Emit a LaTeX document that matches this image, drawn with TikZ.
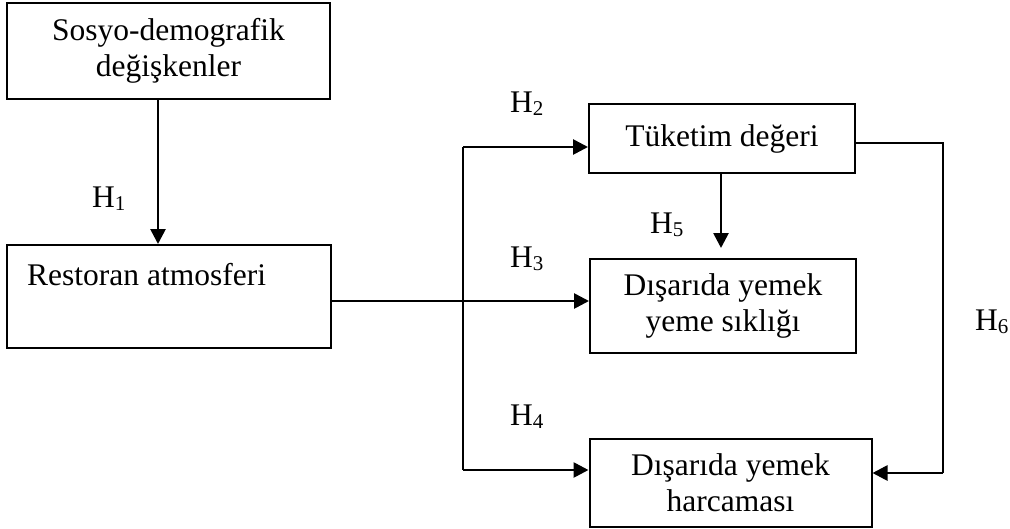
\documentclass[tikz,border=0pt]{standalone}
\usepackage{fontspec}
\setmainfont{Liberation Serif}
\usetikzlibrary{arrows.meta}
\newcommand{\hyp}[1]{H\raisebox{-0.12em}{\fontsize{21}{21}\selectfont #1}}
\begin{document}
\begin{tikzpicture}[x=1pt,y=-1pt,
  every node/.style={font=\fontsize{31.5}{36}\selectfont, inner sep=0pt},
  box/.style={draw, line width=2pt, align=center},
  conn/.style={line width=2.7pt},
  arr/.style={conn, -{Triangle[length=15pt,width=15pt]}},
  hlab/.style={anchor=base west}]
\useasboundingbox (0,0) rectangle (1010,528);
% boxes
\node[box, minimum width=323pt, minimum height=96pt] (s) at (168.5,51) {Sosyo-demografik\\değişkenler};
\node[box, minimum width=324pt, minimum height=103pt] (r) at (169,296.5) {};
\node[anchor=base west] (rt) at (27,285) {Restoran atmosferi};
\node[box, minimum width=266pt, minimum height=69pt] (t) at (722,138.5) {Tüketim değeri};
\node[box, minimum width=266pt, minimum height=94pt] (f) at (723,306) {Dışarıda yemek\\yeme sıklığı};
\node[box, minimum width=282pt, minimum height=88pt] (h) at (730.5,483) {Dışarıda yemek\\harcaması};
% junction coordinates
\coordinate (j) at (463,301);
\coordinate (jt) at (463,147);
\coordinate (jb) at (463,470);
\coordinate (rr) at (943,143);
\coordinate (rb) at (943,473);
\coordinate (h5end) at (721,248);
% connectors
\draw[arr] (s.south -| 158,0) -- (r.north -| 158,0);
\draw[conn] (r.east |- j) -- (j);
\draw[conn] (jt) -- (jb);
\draw[arr] (jt) -- (t.west |- jt);
\draw[arr] (j) -- (f.west |- j);
\draw[arr] (jb) -- (h.west |- jb);
\draw[arr] (t.south -| h5end) -- (h5end);
\draw[conn] (t.east |- rr) -- (rr) -- (rb);
\draw[arr] (rb) -- (h.east |- rb);
% labels
\node[hlab] (h1) at (92,207) {\hyp{1}};
\node[hlab] (h2) at (510,112) {\hyp{2}};
\node[hlab] (h3) at (510,267) {\hyp{3}};
\node[hlab] (h4) at (510,425) {\hyp{4}};
\node[hlab] (h5) at (650,233) {\hyp{5}};
\node[hlab] (h6) at (975,330) {\hyp{6}};
\end{tikzpicture}
\end{document}
